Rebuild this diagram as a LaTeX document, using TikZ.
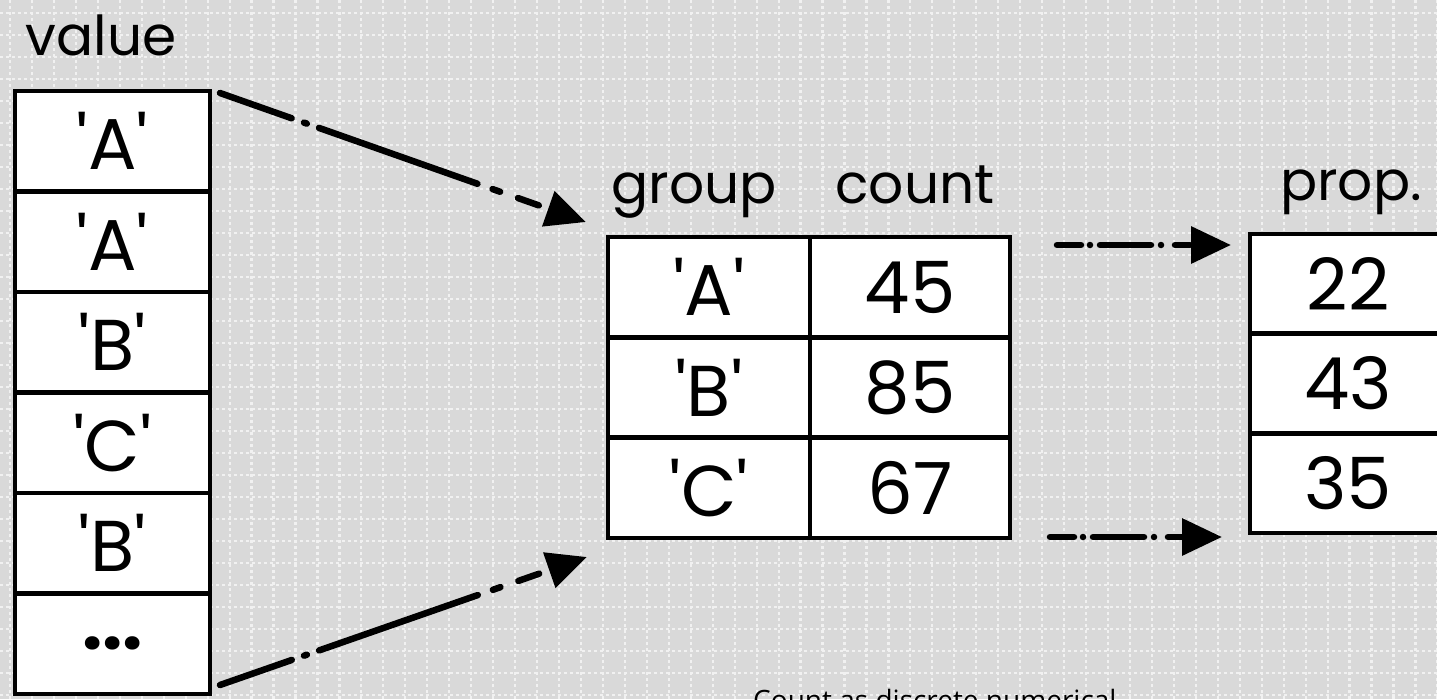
\documentclass[tikz,border=0pt]{standalone}
\usepackage{fontspec}
\newfontfamily\handfont{Poppins}
\newfontfamily\notefont{Open Sans}
\usetikzlibrary{arrows.meta}
\definecolor{bg}{HTML}{D9D9D9}
\definecolor{griddot}{HTML}{F1F1F1}
\begin{document}
\begin{tikzpicture}[x=1pt,y=-1pt,
  cell/.style={draw=black, fill=white, line width=4.5pt, inner sep=0pt,
    font=\handfont\fontsize{72}{74}\selectfont},
  vcell/.style={cell, minimum width=195pt, minimum height=100.5pt},
  gcell/.style={cell, minimum width=202pt, minimum height=100.33pt},
  ccell/.style={cell, minimum width=200pt, minimum height=100.33pt},
  pcell/.style={cell, minimum width=196pt, minimum height=99.67pt},
  head/.style={anchor=base, inner sep=0pt, font=\handfont\fontsize{55}{60}\selectfont},
  gridline/.style={griddot, line width=2.2pt, dash pattern=on 3pt off 3pt},
  flow/.style={line width=6.5pt, line cap=round, -{Triangle[length=40pt,width=36pt]}},
  longflow/.style={flow, dash pattern=on 76pt off 13pt on 3pt off 13pt on 168pt off 16pt on 8pt off 19pt on 22pt off 80pt},
  shortflow/.style={flow, dash pattern=on 24pt off 9pt on 0pt off 10pt on 51pt off 10pt on 0pt off 14pt on 15pt off 40pt}]
\useasboundingbox (0,0) rectangle (1437,699);
\fill[bg] (0,0) rectangle (1437,699);
\foreach \i in {0,...,65} \draw[gridline] ({10+21.96*\i},0) -- ({10+21.96*\i},699);
\foreach \j in {0,...,31} \draw[gridline] (0,{13.3+22*\j}) -- (1437,{13.3+22*\j});

% value column
\node[head] (valuehead) at (101,55) {value};
\node[vcell] (v1) at (112.5,141.25) {\textquotesingle A\textquotesingle};
\node[vcell] (v2) at (112.5,241.75) {\textquotesingle A\textquotesingle};
\node[vcell] (v3) at (112.5,342.25) {\textquotesingle B\textquotesingle};
\node[vcell] (v4) at (112.5,442.75) {\textquotesingle C\textquotesingle};
\node[vcell] (v5) at (112.5,543.25) {\textquotesingle B\textquotesingle};
\node[vcell] (v6) at (112.5,643.75) {\bfseries ...};

% group / count table
\node[head] (grouphead) at (694,203) {group};
\node[head] (counthead) at (915,203) {count};
\node[gcell] (g1) at (709,287.2) {\textquotesingle A\textquotesingle};
\node[gcell] (g2) at (709,387.5) {\textquotesingle B\textquotesingle};
\node[gcell] (g3) at (709,487.8) {\textquotesingle C\textquotesingle};
\node[ccell] (c1) at (910,287.2) {45};
\node[ccell] (c2) at (910,387.5) {85};
\node[ccell] (c3) at (910,487.8) {67};

% prop. column
\node[head] (prophead) at (1351,200) {prop.};
\node[pcell] (p1) at (1348,283.8) {22};
\node[pcell] (p2) at (1348,383.5) {43};
\node[pcell] (p3) at (1348,483.2) {35};

% connectors
\draw[longflow] ([xshift=7.75pt,yshift=-4.25pt]v1.north east) -- ([xshift=-19.75pt,yshift=12.75pt]g1.north west);
\draw[longflow] ([xshift=7.75pt,yshift=11.25pt]v6.south east) -- ([xshift=-18.75pt,yshift=-16.75pt]g3.south west);
\draw[shortflow] ([xshift=44.75pt,yshift=42.2pt]c1.east) -- ([xshift=-16.75pt,yshift=38.8pt]p1.west);
\draw[shortflow] ([xshift=37.75pt,yshift=-49.2pt]c3.east) -- ([xshift=-25.75pt,yshift=-53.8pt]p3.west);

% note (cut off by the lower edge, as in the reference)
\node[anchor=base west, inner sep=0pt, font=\notefont\fontsize{28}{30}\selectfont] (note) at (753,710) {Count as discrete numerical};
\end{tikzpicture}
\end{document}
